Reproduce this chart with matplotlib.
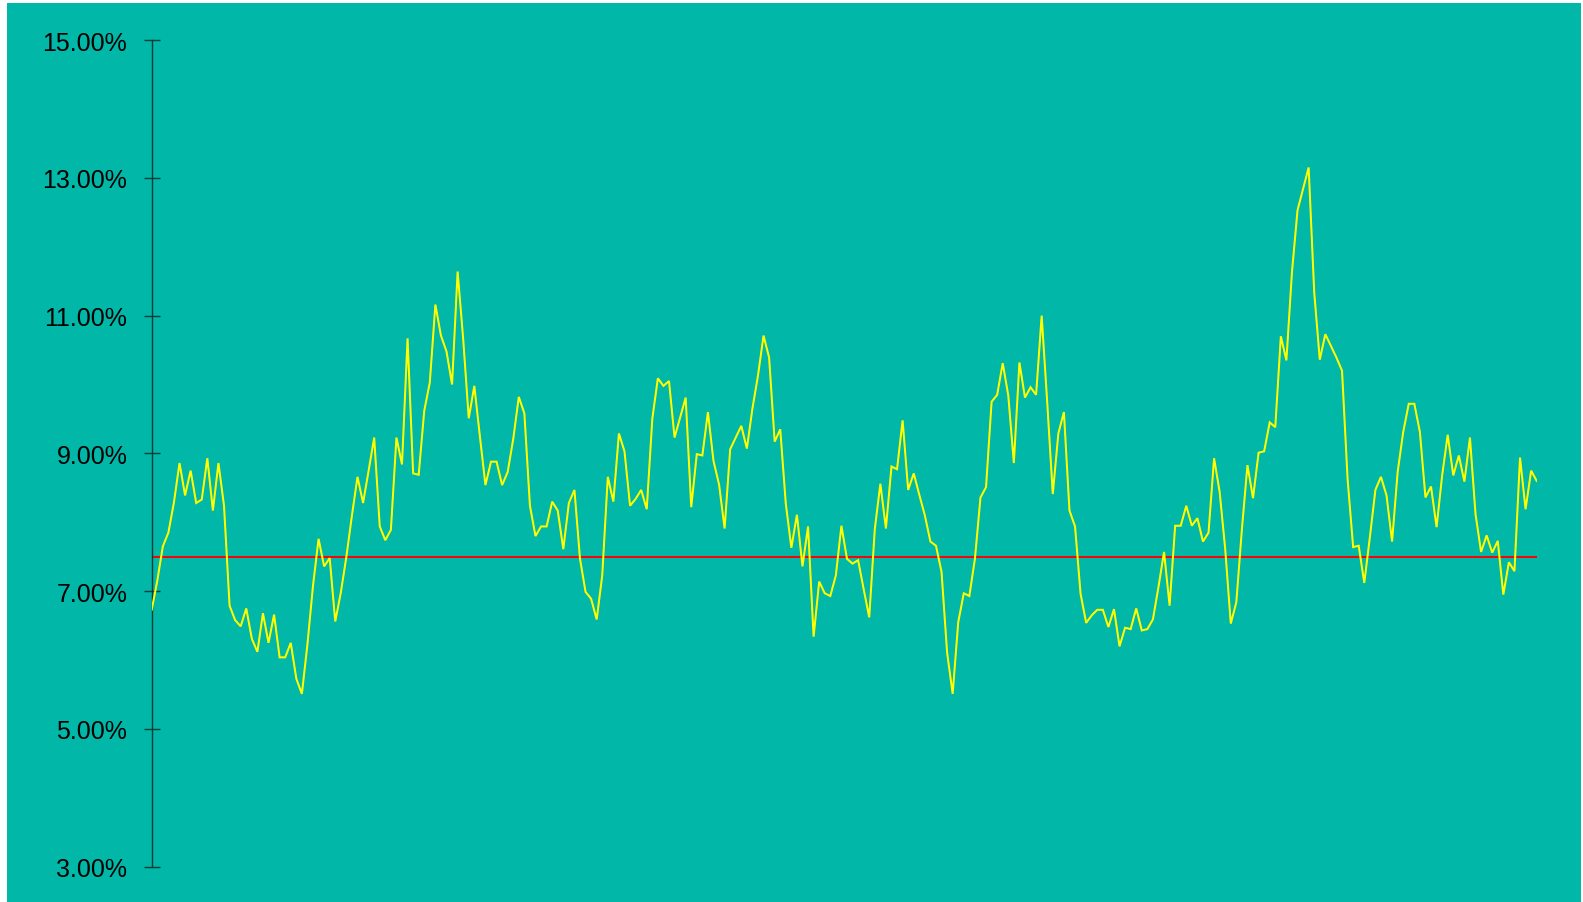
import matplotlib
matplotlib.use("Agg")
import matplotlib.pyplot as plt
from matplotlib.patches import Rectangle

# ---- data ----
rate_pct = [
    6.73, 7.15, 7.65, 7.85, 8.29, 8.86, 8.39, 8.75, 8.28, 8.33,
    8.93, 8.17, 8.86, 8.24, 6.79, 6.58, 6.49, 6.75, 6.31, 6.12,
    6.68, 6.25, 6.66, 6.04, 6.04, 6.25, 5.73, 5.51, 6.23, 7.08,
    7.76, 7.36, 7.48, 6.56, 6.98, 7.50, 8.10, 8.66, 8.28, 8.75,
    9.23, 7.94, 7.74, 7.89, 9.23, 8.84, 10.67, 8.71, 8.69, 9.62,
    10.03, 11.16, 10.71, 10.48, 10.00, 11.64, 10.66, 9.51, 9.98, 9.25,
    8.54, 8.88, 8.88, 8.54, 8.73, 9.21, 9.82, 9.58, 8.24, 7.80,
    7.94, 7.94, 8.30, 8.17, 7.61, 8.28, 8.47, 7.47, 6.99, 6.89,
    6.59, 7.23, 8.66, 8.30, 9.29, 9.03, 8.24, 8.34, 8.47, 8.19,
    9.50, 10.09, 9.98, 10.05, 9.23, 9.52, 9.81, 8.22, 8.99, 8.97,
    9.60, 8.89, 8.55, 7.91, 9.06, 9.23, 9.40, 9.07, 9.65, 10.13,
    10.71, 10.39, 9.17, 9.35, 8.27, 7.63, 8.11, 7.36, 7.94, 6.34,
    7.14, 6.97, 6.93, 7.23, 7.95, 7.47, 7.40, 7.45, 7.03, 6.62,
    7.90, 8.56, 7.91, 8.81, 8.77, 9.48, 8.47, 8.71, 8.40, 8.10,
    7.72, 7.66, 7.28, 6.11, 5.51, 6.55, 6.97, 6.93, 7.47, 8.36,
    8.51, 9.75, 9.85, 10.31, 9.84, 8.86, 10.32, 9.81, 9.96, 9.85,
    11.00, 9.74, 8.41, 9.29, 9.60, 8.17, 7.94, 6.96, 6.54, 6.65,
    6.73, 6.73, 6.48, 6.74, 6.20, 6.47, 6.45, 6.75, 6.43, 6.45,
    6.59, 7.06, 7.57, 6.79, 7.95, 7.95, 8.24, 7.95, 8.06, 7.72,
    7.85, 8.93, 8.44, 7.61, 6.53, 6.84, 7.90, 8.83, 8.35, 9.01,
    9.03, 9.45, 9.38, 10.70, 10.35, 11.63, 12.53, 12.84, 13.15, 11.34,
    10.36, 10.73, 10.56, 10.39, 10.20, 8.63, 7.64, 7.66, 7.12, 7.78,
    8.47, 8.66, 8.39, 7.72, 8.73, 9.31, 9.72, 9.72, 9.31, 8.36,
    8.52, 7.93, 8.68, 9.27, 8.68, 8.97, 8.59, 9.23, 8.12, 7.57,
    7.81, 7.56, 7.73, 6.95, 7.42, 7.29, 8.94, 8.19, 8.75, 8.60,
]
threshold_pct = 7.5
y_ticks = [3, 5, 7, 9, 11, 13, 15]
y_tick_labels = [f"{v:.2f}%" for v in y_ticks]

# ---- style ----
W, H = 1583, 903
TEAL = "#00B7A8"
YELLOW = "#FFFF00"
RED = "#FF0000"
AXIS_COL = "#0E3B35"

plt.rcParams["font.family"] = ["Liberation Sans", "DejaVu Sans"]

fig = plt.figure(figsize=(W / 100, H / 100), dpi=100, facecolor="white")
fig.patches.append(Rectangle((7 / W, 0), (1581 - 7) / W, (H - 4) / H,
                             transform=fig.transFigure, facecolor=TEAL,
                             edgecolor="none", zorder=-10))

left_px, right_px = 151.7, 1536.7
top_px, bottom_px = 41.0, 867.8
ax = fig.add_axes([left_px / W, 1 - bottom_px / H,
                   (right_px - left_px) / W, (bottom_px - top_px) / H])
ax.set_facecolor("none")
ax.set_zorder(5)

x = list(range(len(rate_pct)))
ax.axhline(threshold_pct, color=RED, lw=1.4, zorder=2, snap=True)
ax.plot(x, rate_pct, color=YELLOW, lw=1.45, zorder=3, solid_joinstyle="miter")

ax.set_xlim(0, len(rate_pct) - 1)
ax.set_ylim(3, 15)
ax.set_xticks([])
ax.set_yticks(y_ticks)
ax.set_yticklabels(y_tick_labels)
ax.tick_params(axis="y", direction="inout", length=12.2, width=1.0,
               color=AXIS_COL, pad=11.5, labelsize=18, labelcolor="black")
for side in ("top", "right", "bottom"):
    ax.spines[side].set_visible(False)
ax.spines["left"].set_color(AXIS_COL)
ax.spines["left"].set_linewidth(1.0)

fig.savefig("out.png", dpi=100, facecolor=fig.get_facecolor())
